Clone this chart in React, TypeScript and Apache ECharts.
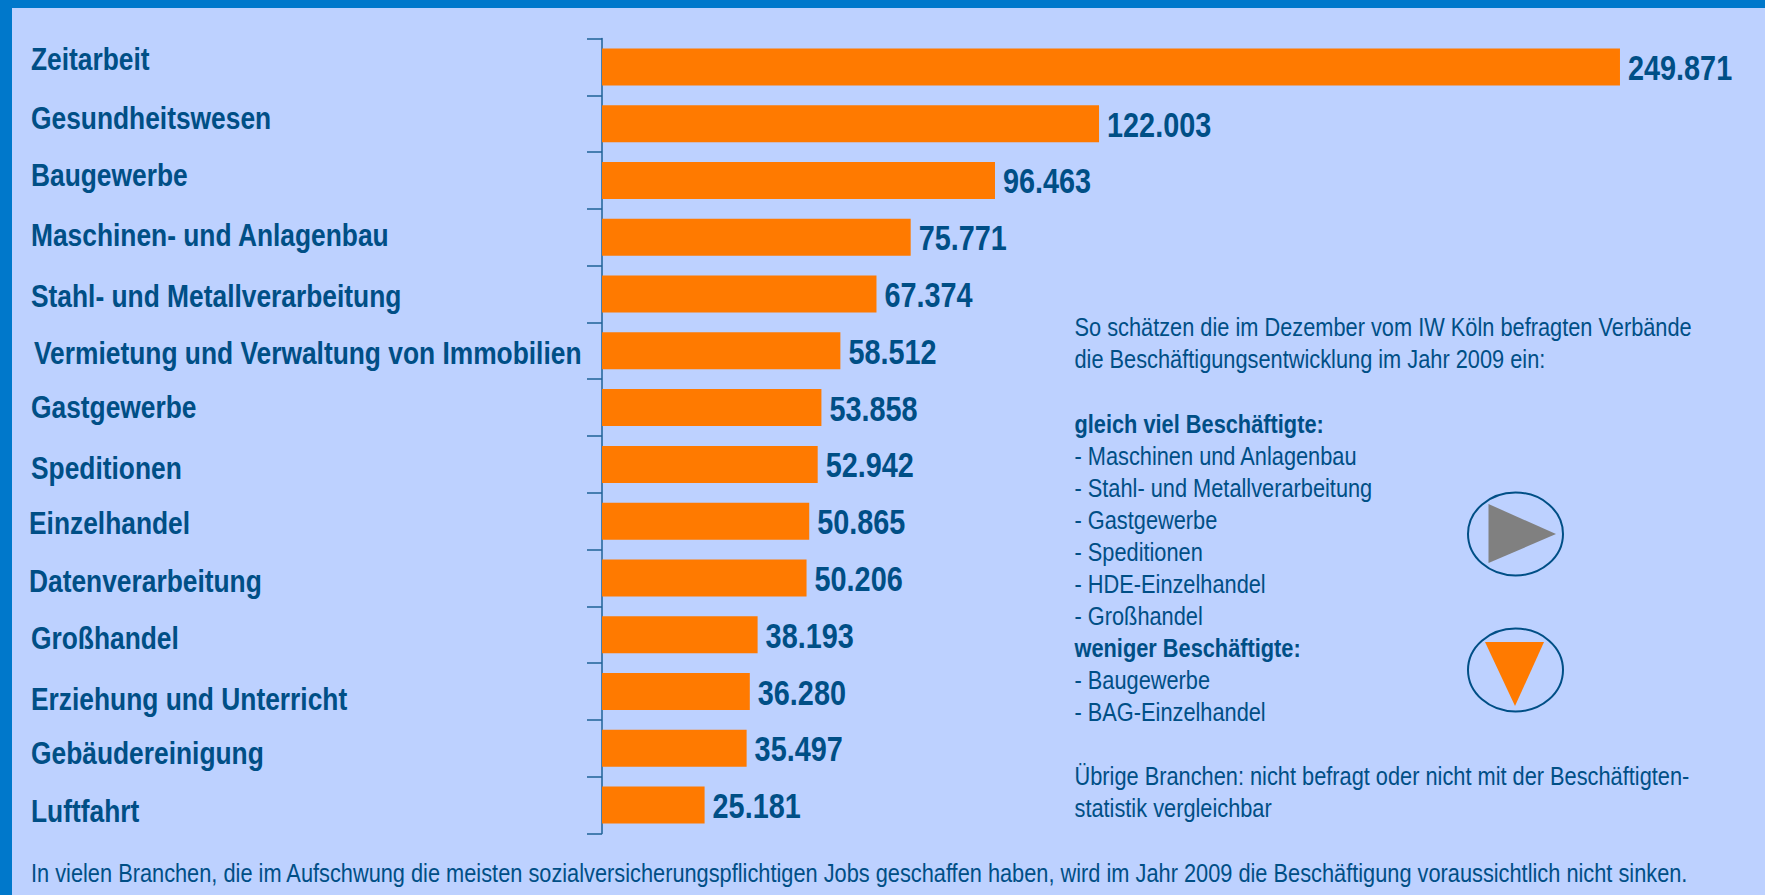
import React, { useEffect, useRef } from "react";
import * as echarts from "echarts";

const categories = ["Zeitarbeit","Gesundheitswesen","Baugewerbe","Maschinen- und Anlagenbau","Stahl- und Metallverarbeitung","Vermietung und Verwaltung von Immobilien","Gastgewerbe","Speditionen","Einzelhandel","Datenverarbeitung","Großhandel","Erziehung und Unterricht","Gebäudereinigung","Luftfahrt"];
const values = [249871,122003,96463,75771,67374,58512,53858,52942,50865,50206,38193,36280,35497,25181];
const labelShiftY = [-8,-6,-6,-3,2,2,-1,3,1,3,3,7,4,5];
const labelShiftX = [0,0,0,0,0,3,0,0,-2,-2,0,0,0,0];
const noteLines: [string, number, boolean][] = [
  ["So schätzen die im Dezember vom IW Köln befragten Verbände",327,false],
  ["die Beschäftigungsentwicklung im Jahr 2009 ein:",359,false],
  ["gleich viel Beschäftigte:",424,true],
  ["- Maschinen und Anlagenbau",456,false],
  ["- Stahl- und Metallverarbeitung",488,false],
  ["- Gastgewerbe",520,false],
  ["- Speditionen",552,false],
  ["- HDE-Einzelhandel",584,false],
  ["- Großhandel",616,false],
  ["weniger Beschäftigte:",648,true],
  ["- Baugewerbe",680,false],
  ["- BAG-Einzelhandel",712,false],
  ["Übrige Branchen: nicht befragt oder nicht mit der Beschäftigten-",776,false],
  ["statistik vergleichbar",808,false],
];
const footer = "In vielen Branchen, die im Aufschwung die meisten sozialversicherungspflichtigen Jobs geschaffen haben, wird im Jahr 2009 die Beschäftigung voraussichtlich nicht sinken.";

const FONT = "'Liberation Sans',Arial,sans-serif";
const TEXT = "#004F86";
const ORANGE = "#FF7A00";
const NARROW = 0.824;
const NARROW_NOTE = 0.838;

export default function App() {
  const ref = useRef<HTMLDivElement>(null);
  useEffect(() => {
    const chart = echarts.init(ref.current!, undefined, { renderer: "svg" });
    const fmt = (v: number) => String(v).replace(/(\d)(\d{3})$/, "$1.$2");
    chart.setOption({
      animation: false,
      backgroundColor: "#BDD1FF",
      grid: { left: 602, top: 38.5, width: 1018.5, height: 795, containLabel: false, outerBoundsMode: "none" },
      xAxis: { type: "value", min: 0, max: 250000, show: false },
      yAxis: {
        type: "category",
        inverse: true,
        data: categories,
        axisLine: { show: true, lineStyle: { color: "#1F6297", width: 1.5 } },
        axisTick: { show: true, interval: 0, length: 15, lineStyle: { color: "#1F6297", width: 1.5 } },
        axisLabel: { show: false },
      },
      series: [
        {
          type: "bar",
          data: values,
          barWidth: 37,
          itemStyle: { color: ORANGE },
        },
        {
          type: "custom",
          data: values.map((v, i) => [v, i]),
          encode: { x: 0, y: 1 },
          silent: true,
          renderItem: (_p: any, api: any) => {
            const i = api.value(1);
            const [x, y] = api.coord([api.value(0), i]);
            return {
              type: "text", x: x + 8, y: y + 1, scaleX: NARROW,
              style: { text: fmt(api.value(0)), font: `bold 35px ${FONT}`, fill: TEXT, textVerticalAlign: "middle" },
            };
          },
        },
        {
          type: "custom",
          data: values.map((v, i) => [0, i]),
          encode: { x: 0, y: 1 },
          silent: true,
          renderItem: (_p: any, api: any) => {
            const i = api.value(1);
            const [, y] = api.coord([0, i]);
            return {
              type: "text", x: 31 + labelShiftX[i], y: y + labelShiftY[i], scaleX: NARROW,
              style: { text: categories[i], font: `bold 32px ${FONT}`, fill: TEXT, textVerticalAlign: "middle" },
            };
          },
        },
      ],
      graphic: [
        { type: "rect", shape: { x: 0, y: 0, width: 1765, height: 8 }, style: { fill: "#0078CB" } },
        { type: "rect", shape: { x: 0, y: 0, width: 12, height: 895 }, style: { fill: "#0078CB" } },
        ...noteLines.map(([text, y, bold]) => ({
          type: "text", x: 1074.5, y, scaleX: NARROW_NOTE,
          style: { text, font: `${bold ? "bold " : ""}26px ${FONT}`, fill: TEXT, textVerticalAlign: "middle" },
        })),
        {
          type: "text", x: 31, y: 873, scaleX: NARROW_NOTE,
          style: { text: footer, font: `26px ${FONT}`, fill: TEXT, textVerticalAlign: "middle" },
        },
        { type: "ellipse", shape: { cx: 1515.5, cy: 534, rx: 47.5, ry: 41.5 }, style: { fill: "none", stroke: TEXT, lineWidth: 2 } },
        { type: "polygon", shape: { points: [[1488.5, 504], [1488.5, 563], [1556, 534]] }, style: { fill: "#808080" } },
        { type: "ellipse", shape: { cx: 1515.5, cy: 670, rx: 47.5, ry: 41.5 }, style: { fill: "none", stroke: TEXT, lineWidth: 2 } },
        { type: "polygon", shape: { points: [[1485, 642], [1544, 642], [1515, 706]] }, style: { fill: ORANGE } },
      ],
    });
    return () => chart.dispose();
  }, []);
  return <div ref={ref} style={{ position: "fixed", left: 0, top: 0, width: 1765, height: 895 }} />;
}
